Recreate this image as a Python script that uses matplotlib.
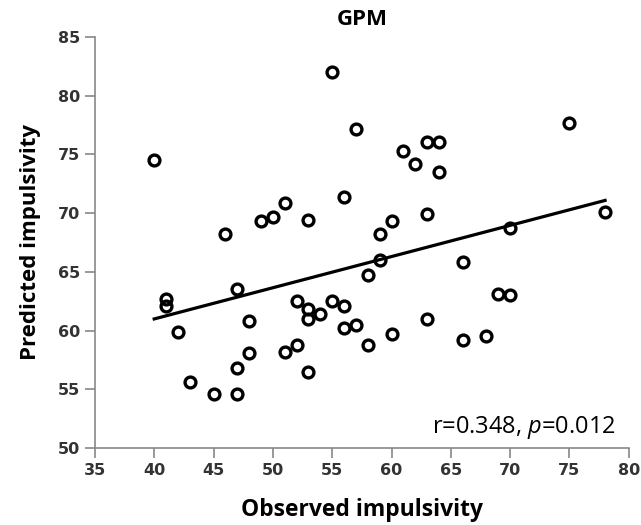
import numpy as np
import matplotlib
matplotlib.use('Agg')
import matplotlib.pyplot as plt

# observed vs predicted impulsivity
observed = [40, 41, 41, 42, 43, 45, 46, 47, 47, 47, 48, 48, 49, 50, 51, 51,
            52, 52, 53, 53, 53, 53, 54, 55, 55, 56, 56, 56, 57, 57, 58, 58,
            59, 59, 60, 60, 61, 62, 63, 63, 63, 64, 64, 66, 66, 68, 69, 70,
            70, 75, 78]
predicted = [74.5, 62.7, 62.1, 59.9, 55.6, 54.6, 68.2, 63.5, 56.8, 54.6, 60.8, 58.1,
             69.3, 69.7, 70.9, 58.2, 62.5, 58.8, 69.4, 61.8, 61.0, 56.5, 61.4, 82.0,
             62.5, 71.4, 62.1, 60.2, 77.2, 60.5, 64.7, 58.8, 68.2, 66.0, 69.3, 59.7,
             75.3, 74.2, 76.1, 69.9, 61.0, 76.1, 73.5, 65.8, 59.2, 59.5, 63.1, 68.7,
             63.0, 77.7, 70.1]
x_ticks = [35, 40, 45, 50, 55, 60, 65, 70, 75, 80]
y_ticks = [50, 55, 60, 65, 70, 75, 80, 85]

plt.rcParams['mathtext.fontset'] = 'custom'
plt.rcParams['mathtext.rm'] = 'Open Sans'
plt.rcParams['mathtext.it'] = 'Open Sans:italic'

fig = plt.figure(figsize=(6.41, 5.25), dpi=100)
ax = fig.add_axes([0.148, 0.1467, 0.833, 0.7828])

ax.plot(observed, predicted, 'o', mfc='none', mec='black', ms=7.8, mew=2.4, zorder=3)

# least squares line
slope, intercept = np.polyfit(observed, predicted, 1)
xl = np.array([min(observed), max(observed)])
ax.plot(xl, slope * xl + intercept, color='black', lw=2.3)

ax.set_xlim(35, 80)
ax.set_ylim(50, 85)
ax.set_xticks(x_ticks)
ax.set_yticks(y_ticks)
for s in ['top', 'right']:
    ax.spines[s].set_visible(False)
for s in ['left', 'bottom']:
    ax.spines[s].set_color('#888888')
    ax.spines[s].set_linewidth(1.2)
ax.tick_params(direction='out', length=7, width=1.2, color='#888888',
               labelsize=11.5, labelcolor='#333333')
for lab in ax.get_xticklabels() + ax.get_yticklabels():
    lab.set_family(['Liberation Sans Narrow', 'DejaVu Sans'])
    lab.set_fontweight('bold')

ax.set_xlabel('Observed impulsivity', fontsize=16.5, fontweight='bold',
              family='Open Sans', labelpad=15)
ax.set_ylabel('Predicted impulsivity', fontsize=16, fontweight='bold',
              family='Open Sans', labelpad=12)
ax.set_title('GPM', fontsize=16, fontweight='bold', family='Open Sans', pad=9)

ax.text(0.975, 0.05, r'r=0.348, $\mathit{p}$=0.012', transform=ax.transAxes,
        ha='right', va='center', fontsize=17, family='Open Sans')

fig.savefig('out.png', dpi=100)
